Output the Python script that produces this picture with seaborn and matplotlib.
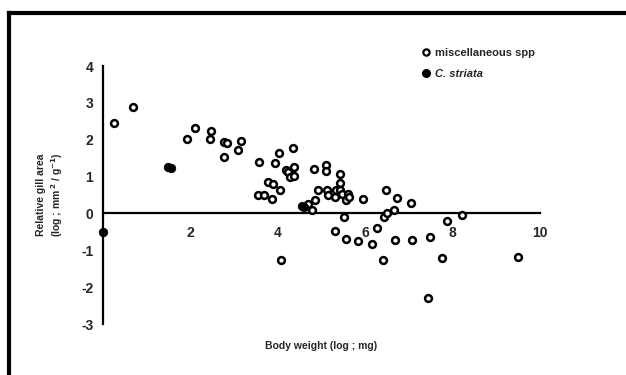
import pandas as pd
import matplotlib
matplotlib.use('Agg')
import matplotlib.pyplot as plt
import seaborn as sns
from matplotlib.lines import Line2D

# --- Data ---
misc_x = [0.25, 0.68, 1.93, 2.11, 2.46, 2.44, 2.76, 2.84, 2.77, 3.10, 3.15,
          3.57, 3.55, 3.68, 3.77, 3.90, 3.86, 3.94, 4.02, 4.05, 4.08, 4.18,
          4.23, 4.28, 4.37, 4.38, 4.34, 4.70, 4.79, 4.83, 4.86, 4.91, 5.11,
          5.10, 5.13, 5.16, 5.30, 5.31, 5.34, 5.42, 5.42, 5.42, 5.48, 5.51,
          5.55, 5.60, 5.62, 5.57, 5.83, 5.95, 6.16, 6.28, 6.41, 6.42, 6.48,
          6.51, 6.67, 6.69, 6.73, 7.05, 7.08, 7.44, 7.49, 7.76, 7.88, 8.22,
          9.50]
misc_y = [2.46, 2.88, 2.03, 2.33, 2.23, 2.01, 1.94, 1.90, 1.54, 1.72, 1.97,
          1.40, 0.50, 0.50, 0.86, 0.80, 0.38, 1.37, 1.65, 0.63, -1.27, 1.19,
          1.13, 0.99, 1.02, 1.27, 1.78, 0.25, 0.09, 1.20, 0.36, 0.63, 1.31,
          1.16, 0.63, 0.50, 0.45, -0.47, 0.63, 1.07, 0.83, 0.63, 0.54, -0.09,
          0.36, 0.54, 0.45, -0.70, -0.74, 0.38, -0.83, -0.39, -1.27, -0.11, 0.63,
          0.02, 0.09, -0.72, 0.41, 0.27, -0.72, -2.29, -0.63, -1.22, -0.21, -0.03,
          -1.18]
striata_x = [0.0, 1.48, 1.55, 4.55, 4.60]
striata_y = [-0.5, 1.27, 1.23, 0.20, 0.18]

x_ticks = [2, 4, 6, 8, 10]
y_ticks = [-3, -2, -1, 0, 1, 2, 3, 4]

df = pd.concat([
    pd.DataFrame({'weight': misc_x, 'gill': misc_y, 'group': 'miscellaneous spp'}),
    pd.DataFrame({'weight': striata_x, 'gill': striata_y, 'group': 'C. striata'}),
])

sns.set_style('white')
plt.rcParams['font.family'] = ['Liberation Sans', 'DejaVu Sans']
plt.rcParams['font.weight'] = 'bold'

fig = plt.figure(figsize=(6.26, 3.75), dpi=100)
ax = fig.add_axes([103 / 626, 51 / 375, 437 / 626, 258 / 375])

sns.scatterplot(data=df[df['group'] == 'miscellaneous spp'], x='weight', y='gill',
                ax=ax, marker='o', s=24, facecolor='white', edgecolor='black',
                linewidth=1.8, clip_on=False, zorder=3)
sns.scatterplot(data=df[df['group'] == 'C. striata'], x='weight', y='gill',
                ax=ax, marker='o', s=38, color='black', edgecolor='black',
                linewidth=0.5, clip_on=False, zorder=4)

ax.set_xlim(0, 10)
ax.set_ylim(-3, 4)
ax.set_xticks(x_ticks)
ax.set_yticks(y_ticks)
ax.set_xticklabels([str(t) for t in x_ticks], fontsize=7.5, fontweight='bold')
ax.set_yticklabels([str(t) for t in y_ticks], fontsize=7.5, fontweight='bold')

for side in ['top', 'right']:
    ax.spines[side].set_visible(False)
ax.spines['bottom'].set_position(('data', 0))
ax.spines['left'].set_position(('data', 0))
for side in ['bottom', 'left']:
    ax.spines[side].set_linewidth(1.6)
    ax.spines[side].set_color('black')
ax.tick_params(axis='both', direction='out', length=4, width=1.6, color='black', pad=3)
ax.tick_params(axis='x', pad=5)
ax.grid(False)

ax.set_xlabel('Body weight (log ; mg)', fontsize=7.5, fontweight='bold')
ax.xaxis.set_label_coords(0.5, -0.085)
ax.xaxis.label.set_va('center')
ax.set_ylabel('Relative gill area\n(log ; mm$^{\\,2}$ / g$^{-1}$)', fontsize=7.5,
              fontweight='bold', linespacing=1.3)
ax.yaxis.set_label_coords(-0.12, 0.5)
ax.yaxis.label.set_va('center')

handles = [
    Line2D([], [], marker='o', linestyle='none', markersize=4.5, markerfacecolor='white',
           markeredgecolor='black', markeredgewidth=1.6),
    Line2D([], [], marker='o', linestyle='none', markersize=5.5, markerfacecolor='black',
           markeredgecolor='black'),
]
leg = fig.legend(handles, ['miscellaneous spp', 'C. striata'], loc='upper left',
                 bbox_to_anchor=(412 / 626, 1 - 38 / 375), frameon=False,
                 handlelength=0.8, handletextpad=0.4, labelspacing=1.0,
                 prop={'size': 8, 'weight': 'bold'})
leg.get_texts()[1].set_style('italic')

# frame line at the left and top of the figure
fig.add_artist(Line2D([9 / 626, 9 / 626], [0, 1 - 12.5 / 375], color='black',
                      linewidth=3, transform=fig.transFigure, solid_capstyle='projecting'))
fig.add_artist(Line2D([9 / 626, 1], [1 - 12.5 / 375, 1 - 12.5 / 375], color='black',
                      linewidth=3, transform=fig.transFigure, solid_capstyle='projecting'))

fig.savefig('out.png', dpi=100, facecolor='white')
